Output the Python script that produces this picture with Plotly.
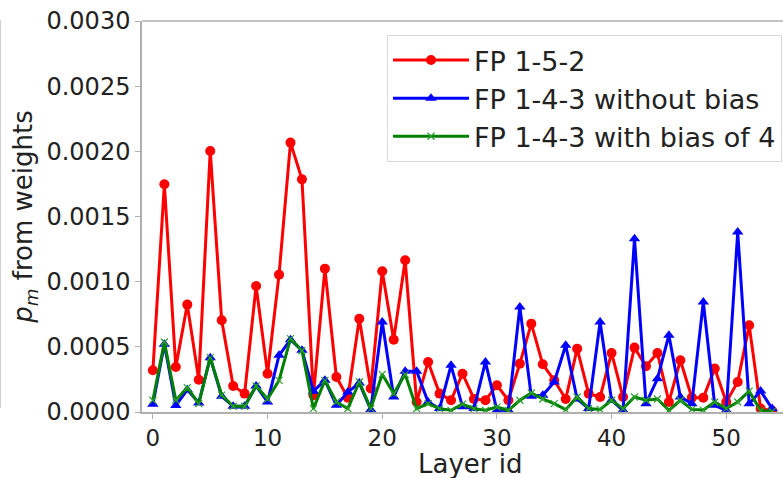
import plotly.graph_objects as go

layers = list(range(55))

fp152 = [0.32, 1.747, 0.345, 0.824, 0.248, 2.003, 0.704, 0.20, 0.141, 0.967,
         0.294, 1.054, 2.067, 1.785, 0.128, 1.10, 0.269, 0.11, 0.716, 0.18,
         1.08, 0.555, 1.164, 0.077, 0.384, 0.141, 0.09, 0.294, 0.10, 0.09,
         0.205, 0.09, 0.371, 0.678, 0.366, 0.243, 0.10, 0.486, 0.141, 0.115,
         0.453, 0.115, 0.494, 0.351, 0.453, 0.077, 0.397, 0.11, 0.11, 0.333,
         0.077, 0.23, 0.665, 0.026, 0.01]

fp143_nobias = [0.06, 0.52, 0.05, 0.17, 0.07, 0.417, 0.12, 0.044, 0.044, 0.20,
                0.077, 0.435, 0.555, 0.473, 0.16, 0.243, 0.051, 0.153, 0.222, 0.018,
                0.69, 0.115, 0.312, 0.312, 0.077, 0.026, 0.358, 0.04, 0.026, 0.384,
                0.013, 0.013, 0.806, 0.12, 0.128, 0.23, 0.512, 0.10, 0.026, 0.69,
                0.09, 0.013, 1.33, 0.064, 0.256, 0.589, 0.115, 0.064, 0.844, 0.051,
                0.013, 1.381, 0.064, 0.161, 0.026]

fp143_bias4 = [0.09, 0.537, 0.09, 0.187, 0.064, 0.417, 0.13, 0.044, 0.044, 0.20,
               0.10, 0.243, 0.563, 0.47, 0.026, 0.243, 0.077, 0.026, 0.23, 0.026,
               0.289, 0.141, 0.289, 0.026, 0.064, 0.026, 0.013, 0.06, 0.026, 0.013,
               0.038, 0.013, 0.09, 0.146, 0.10, 0.064, 0.018, 0.115, 0.026, 0.02,
               0.09, 0.026, 0.115, 0.09, 0.10, 0.013, 0.09, 0.02, 0.015, 0.077,
               0.026, 0.077, 0.16, 0.01, 0.005]

scale = 1e-3
series = [
    ("FP 1-5-2", fp152, "#ff0000", dict(symbol="circle", size=10)),
    ("FP 1-4-3 without bias", fp143_nobias, "#0000ff", dict(symbol="triangle-up", size=10)),
    ("FP 1-4-3 with bias of 4", fp143_bias4, "#008000", dict(symbol="x-thin", size=7, line=dict(width=1.2, color="#2ca02c"))),
]

fig = go.Figure()
for name, vals, color, mk in series:
    m = dict(color=color)
    m.update(mk)
    fig.add_trace(go.Scatter(
        x=layers, y=[v * scale for v in vals], name=name, mode="lines+markers",
        line=dict(color=color, width=3), marker=m,
    ))

W, H = 783, 478
ml, mr, mt, mb = 142, 0, 21, 66
pw, ph = W - ml - mr, H - mt - mb
fig.update_layout(
    width=W, height=H,
    margin=dict(l=ml, r=mr, t=mt, b=mb),
    paper_bgcolor="white", plot_bgcolor="white",
    font=dict(family="DejaVu Sans", size=23, color="#222222"),
    showlegend=True,
    legend=dict(
        x=(782 - ml) / pw, xanchor="right", y=(H - mb - 35) / ph, yanchor="top",
        bgcolor="white", bordercolor="#d9d9d9", borderwidth=1,
        font=dict(size=27, color="#222222"), tracegroupgap=0,
        itemwidth=76,
    ),
    xaxis=dict(
        range=[-0.95, 54.95], tickvals=[0, 10, 20, 30, 40, 50],
        showgrid=False, zeroline=False, showline=True, linecolor="#b0b0b0", linewidth=1.5,
        mirror=False, ticks="outside", ticklen=5, tickcolor="#b0b0b0",
        tickfont=dict(size=23), automargin=False,
    ),
    yaxis=dict(
        range=[0, 0.003], tickvals=[0, 0.0005, 0.001, 0.0015, 0.002, 0.0025, 0.003],
        tickformat=".4f",
        showgrid=False, zeroline=False, showline=True, linecolor="#b0b0b0", linewidth=1.5,
        ticks="outside", ticklen=5, tickcolor="#b0b0b0",
        title=dict(text="<i>p</i><sub><i>m</i></sub> from weights", font=dict(size=26), standoff=6),
        tickfont=dict(size=24), automargin=False,
    ),
)
# x axis title placed below tick labels
fig.add_annotation(text="Layer id", xref="paper", yref="paper",
                   x=(470 - ml) / pw, y=(H - mb - 464) / ph,
                   xanchor="center", yanchor="middle", showarrow=False,
                   font=dict(size=26, color="#222222"))
# top spine
fig.add_shape(type="line", xref="paper", yref="paper", x0=0, x1=1, y0=1, y1=1,
              line=dict(color="#b0b0b0", width=1.5))
# thin crop border at far left
xl = -(ml - 0.5) / pw
fig.add_shape(type="line", xref="paper", yref="paper",
              x0=xl, x1=xl, y0=(H - mb - 408) / ph, y1=(H - mb - 20) / ph,
              line=dict(color="#d0d0d0", width=1))
fig.write_html("out.html")
